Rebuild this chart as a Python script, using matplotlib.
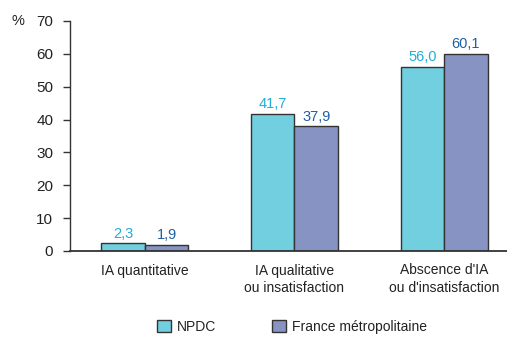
import matplotlib
matplotlib.use("Agg")
import matplotlib.pyplot as plt
import numpy as np

plt.rcParams["font.family"] = ["Liberation Sans", "DejaVu Sans"]

categories = ["IA quantitative", "IA qualitative\nou insatisfaction", "Abscence d'IA\nou d'insatisfaction"]
series_names = ["NPDC", "France métropolitaine"]
npdc = [2.3, 41.7, 56.0]
france = [1.9, 37.9, 60.1]
yticks = [0, 10, 20, 30, 40, 50, 60, 70]

fill_colors = ["#72CFE0", "#8793C3"]
label_colors = ["#1FAED8", "#1F5FA5"]
edge = "#333333"

fig = plt.figure(figsize=(5.07, 3.38), dpi=100)
ax = fig.add_axes([70 / 507, 87 / 338, 1 - 70 / 507, 230 / 338])

x = np.arange(len(categories))
w = 0.29
for i, (vals, name) in enumerate([(npdc, series_names[0]), (france, series_names[1])]):
    offs = (i - 0.5) * w
    ax.bar(x + offs, vals, width=w, color=fill_colors[i], edgecolor=edge,
           linewidth=1.0, label=name)
    for xi, v in zip(x + offs, vals):
        ax.annotate(f"{v:.1f}".replace(".", ","), (xi, v), xytext=(0, 2),
                    textcoords="offset points", ha="center", va="bottom",
                    fontsize=10.5, color=label_colors[i])

ax.set_xlim(-0.5, 2.42)
ax.set_ylim(0, 70)
ax.set_yticks(yticks)
ax.set_xticks(x)
ax.set_xticklabels(categories, fontsize=10, color="#222222", linespacing=1.3)
ax.tick_params(axis="x", length=0, pad=9)
ax.tick_params(axis="y", length=5, width=1, color="#333333", labelsize=11,
               labelcolor="#222222", pad=7)
for s in ["top", "right"]:
    ax.spines[s].set_visible(False)
ax.spines["left"].set_color("#333333")
ax.spines["bottom"].set_color("#333333")
ax.spines["left"].set_linewidth(1.0)
ax.spines["bottom"].set_linewidth(1.3)

fig.text(18 / 507, 1 - 21 / 338, "%", fontsize=10.5, color="#222222", ha="center", va="center")

handles, labels = ax.get_legend_handles_labels()
fig.legend(handles, labels, loc="center", bbox_to_anchor=(292 / 507, 1 - 327 / 338),
           ncol=2, frameon=False, fontsize=10, handlelength=1.0, handleheight=1.0,
           handletextpad=0.45, columnspacing=4.0, labelcolor="#222222",
           borderpad=0, borderaxespad=0)

fig.savefig("out.png", dpi=100)
